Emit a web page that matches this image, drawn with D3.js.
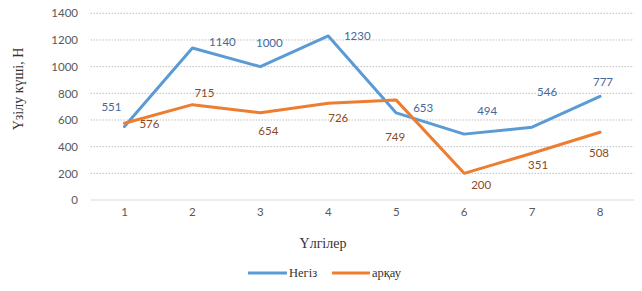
<!DOCTYPE html>
<html><head><meta charset="utf-8">
<script src="https://cdn.jsdelivr.net/npm/d3@7"></script>
<style>html,body{margin:0;padding:0;background:#fff;}svg{display:block;}</style>
</head><body>
<svg id="chart" width="642" height="291"></svg>
<script>
const categories = ["1","2","3","4","5","6","7","8"];
const negizValues = [551, 1140, 1000, 1230, 653, 494, 546, 777];
const arkauValues = [576, 715, 654, 726, 749, 200, 351, 508];
const yTicks = [0, 200, 400, 600, 800, 1000, 1200, 1400];
const seriesNames = ["Негіз", "арқау"];
const yTitle = "Үзілу күші, Н";
const xTitle = "Үлгілер";

// label offsets (style only)
const negizLabelOff = [[-13,-20],[30,-6],[9,-24],[29,0],[27,-5],[23,-24],[15,-36],[3,-15]];
const arkauLabelOff = [[25,0],[12,-12],[8,18],[10,14],[-1,36],[17,11],[6,11],[-1,20]];

(function () {
const svg = d3.select("#chart");
const pLeft = 90.5, pRight = 634, pTop = 13.3, pBottom = 200;

const x = d3.scaleBand().domain(categories).range([pLeft, pRight]);
const y = d3.scaleLinear().domain([0, 1400]).range([pBottom, pTop]);
const cx = d => x(d) + x.bandwidth() / 2;

// gridlines
svg.append("g").selectAll("line").data(yTicks.filter(t => t > 0)).join("line")
  .attr("x1", pLeft).attr("x2", pRight)
  .attr("y1", d => y(d)).attr("y2", d => y(d))
  .attr("stroke", "#bfbfbf").attr("stroke-width", 1)
  .attr("stroke-dasharray", "1.5,1.5");
svg.append("line").attr("x1", pLeft).attr("x2", pRight)
  .attr("y1", y(0)).attr("y2", y(0)).attr("stroke", "#d9d9d9").attr("stroke-width", 1);

// y axis labels
const yAxis = d3.axisLeft(y).tickValues(yTicks).tickFormat(d3.format("d")).tickSize(0).tickPadding(0);
const gy = svg.append("g").attr("transform", "translate(78,0)").call(yAxis);
gy.select(".domain").remove();
gy.selectAll("text").attr("font-family", "Lato, sans-serif").attr("font-size", "11.5px").attr("fill", "#595959");

// x axis labels
const xAxis = d3.axisBottom(x).tickSize(0).tickPadding(0);
const gx = svg.append("g").attr("transform", "translate(0,208)").call(xAxis);
gx.select(".domain").remove();
gx.selectAll("text").attr("font-family", "Lato, sans-serif").attr("font-size", "11.5px").attr("fill", "#595959");

// lines
const line = d3.line().x((d, i) => cx(categories[i])).y(d => y(d));
const colors = ["#5b9bd5", "#ed7d31"];
const labelColors = ["#44699a", "#8c4a1e"];
[negizValues, arkauValues].forEach((vals, s) => {
  svg.append("path").datum(vals).attr("d", line)
    .attr("fill", "none").attr("stroke", colors[s]).attr("stroke-width", 3)
    .attr("stroke-linejoin", "round").attr("stroke-linecap", "round");
});
[[negizValues, negizLabelOff], [arkauValues, arkauLabelOff]].forEach(([vals, off], s) => {
  svg.append("g").selectAll("text").data(vals).join("text")
    .attr("x", (d, i) => cx(categories[i]) + off[i][0])
    .attr("y", (d, i) => y(d) + off[i][1])
    .attr("text-anchor", "middle").attr("dominant-baseline", "central")
    .attr("font-family", "Lato, sans-serif").attr("font-size", "11.5px")
    .attr("fill", labelColors[s]).text(d => d);
});

// titles
svg.append("text").attr("transform", "translate(18,89) rotate(-90)")
  .attr("text-anchor", "middle").attr("dominant-baseline", "central")
  .attr("font-family", "'Liberation Serif', serif").attr("font-size", "14px")
  .attr("fill", "#333").text(yTitle);
svg.append("text").attr("x", 323).attr("y", 243)
  .attr("text-anchor", "middle").attr("dominant-baseline", "central")
  .attr("font-family", "'Liberation Serif', serif").attr("font-size", "14px")
  .attr("fill", "#333").text(xTitle);

// legend
const legendItems = [{x0: 248, x1: 287, tx: 289}, {x0: 332, x1: 370, tx: 372}];
legendItems.forEach((it, s) => {
  svg.append("line").attr("x1", it.x0).attr("x2", it.x1).attr("y1", 273).attr("y2", 273)
    .attr("stroke", colors[s]).attr("stroke-width", 3);
  svg.append("text").attr("x", it.tx).attr("y", 273).attr("dominant-baseline", "central")
    .attr("font-family", "'Liberation Serif', serif").attr("font-size", "12.5px")
    .attr("fill", "#333").text(seriesNames[s]);
});
})();
</script>
</body></html>
